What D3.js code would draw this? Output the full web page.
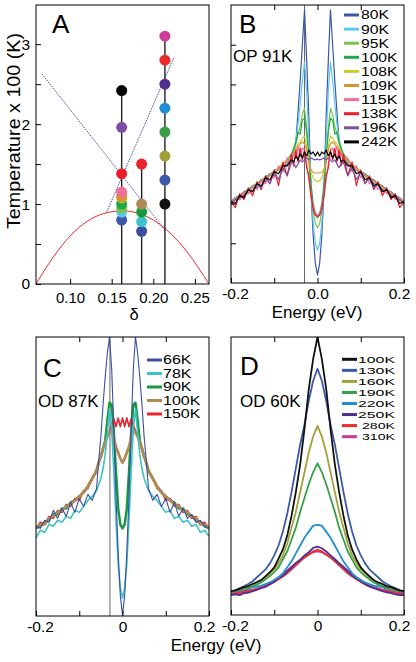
<!DOCTYPE html>
<html>
<head>
<meta charset="utf-8">
<script src="https://cdn.jsdelivr.net/npm/d3@7"></script>
<style>
  body { margin: 0; background: #fff; }
  svg { display: block; }
</style>
</head>
<body>
<svg id="chart" width="416" height="662"></svg>
<script>
// ---------- panel A : phase diagram ----------
const domeDelta = [0.059, 0.08, 0.10, 0.12, 0.14, 0.163, 0.18, 0.20, 0.22, 0.24, 0.267];
const domeTc = [0, 0.34, 0.60, 0.78, 0.88, 0.915, 0.89, 0.80, 0.64, 0.41, 0];
const guideADelta = [0.066, 0.214];
const guideAT = [2.63, 0.675];
const guideBDelta = [0.144, 0.225];
const guideBT = [0.90, 2.84];
const sampleDelta = [0.162, 0.186, 0.214];

// ---------- panel B : OP 91K ----------
const bLabels = ["80K", "90K", "95K", "100K", "108K", "109K", "115K", "138K", "196K", "242K"];
const bTemps = [80, 90, 95, 100, 108, 109, 115, 138, 196, 242];
const bColors = ["#3d56a6", "#5bc8f0", "#7cc24a", "#22a84c", "#c9cd28", "#d69430", "#ef6f97", "#ec1c2d", "#7b4fa3", "#000000"];
const energyB = [-0.2, -0.19, -0.18, -0.17, -0.16, -0.15, -0.14, -0.13, -0.12, -0.11, -0.1, -0.09, -0.08, -0.07, -0.06,
  -0.055, -0.05, -0.045, -0.04, -0.035, -0.03, -0.025, -0.02, -0.015, -0.01, -0.005, 0, 0.005, 0.01, 0.015, 0.02, 0.025, 0.03, 0.035, 0.04, 0.045, 0.05, 0.055,
  0.06, 0.07, 0.08, 0.09, 0.1, 0.11, 0.12, 0.13, 0.14, 0.15, 0.16, 0.17, 0.18, 0.19, 0.2];
const b80 = [2.0, 2.15, 2.1, 2.3, 2.25, 2.45, 2.4, 2.6, 2.55, 2.75, 2.7, 2.9, 2.85, 3.0, 3.15,
  3.3, 3.55, 4.3, 5.1, 6.0, 6.88, 5.6, 4.2, 2.3, 1.2, 0.5, 0.2, 0.5, 1.2, 2.3, 4.2, 5.6, 6.88, 6.0, 5.1, 4.3, 3.55, 3.3,
  3.15, 3.0, 2.9, 2.85, 2.75, 2.7, 2.6, 2.5, 2.45, 2.35, 2.3, 2.2, 2.15, 2.1, 2.0];
const b90 = [2.05, 2.1, 2.2, 2.2, 2.35, 2.4, 2.5, 2.55, 2.7, 2.7, 2.85, 2.85, 3.0, 3.05, 3.2,
  3.35, 3.6, 4.0, 4.5, 5.1, 5.57, 4.8, 3.6, 2.4, 1.5, 1.0, 0.83, 1.0, 1.5, 2.4, 3.6, 4.8, 5.57, 5.1, 4.5, 4.0, 3.6, 3.35,
  3.2, 3.1, 2.95, 2.9, 2.8, 2.75, 2.65, 2.6, 2.45, 2.4, 2.3, 2.25, 2.15, 2.1, 2.0];
const b95 = [2.0, 2.1, 2.15, 2.25, 2.3, 2.4, 2.45, 2.55, 2.6, 2.7, 2.75, 2.85, 2.95, 3.1, 3.2,
  3.35, 3.5, 3.75, 3.95, 4.25, 4.4, 3.9, 3.1, 2.3, 1.8, 1.5, 1.39, 1.5, 1.8, 2.3, 3.1, 3.9, 4.4, 4.25, 3.95, 3.75, 3.5, 3.35,
  3.2, 3.05, 2.95, 2.85, 2.8, 2.7, 2.6, 2.55, 2.45, 2.4, 2.3, 2.25, 2.15, 2.1, 2.0];
const b100 = [2.05, 2.15, 2.2, 2.3, 2.35, 2.45, 2.5, 2.6, 2.65, 2.75, 2.8, 2.9, 3.0, 3.1, 3.25,
  3.4, 3.55, 3.8, 3.75, 4.1, 4.15, 3.8, 3.2, 2.5, 2.0, 1.75, 1.64, 1.75, 2.0, 2.5, 3.2, 3.8, 4.15, 4.1, 3.75, 3.8, 3.55, 3.4,
  3.25, 3.1, 3.0, 2.9, 2.8, 2.75, 2.65, 2.6, 2.5, 2.45, 2.35, 2.3, 2.2, 2.15, 2.05];
const b108 = [1.95, 2.1, 2.15, 2.25, 2.3, 2.4, 2.5, 2.55, 2.65, 2.7, 2.8, 2.9, 3.0, 3.1, 3.2,
  3.3, 3.4, 3.5, 3.55, 3.65, 3.7, 3.45, 3.1, 2.8, 2.65, 2.58, 2.55, 2.58, 2.65, 2.8, 3.1, 3.45, 3.7, 3.65, 3.55, 3.5, 3.4, 3.3,
  3.2, 3.1, 3.0, 2.9, 2.8, 2.7, 2.65, 2.55, 2.5, 2.4, 2.3, 2.25, 2.15, 2.1, 1.95];
const b109 = [2.05, 2.1, 2.2, 2.25, 2.35, 2.4, 2.5, 2.55, 2.65, 2.7, 2.8, 2.85, 2.95, 3.05, 3.15,
  3.25, 3.35, 3.4, 3.5, 3.55, 3.5, 3.35, 3.05, 2.85, 2.79, 2.77, 2.77, 2.77, 2.79, 2.85, 3.05, 3.35, 3.5, 3.55, 3.5, 3.4, 3.35, 3.25,
  3.15, 3.05, 2.95, 2.85, 2.8, 2.7, 2.65, 2.55, 2.5, 2.4, 2.35, 2.25, 2.2, 2.1, 2.05];
const b115 = [2.0, 2.15, 2.1, 2.3, 2.25, 2.45, 2.35, 2.6, 2.5, 2.75, 2.65, 2.95, 2.8, 3.15, 3.0,
  3.3, 3.15, 3.45, 3.2, 3.4, 3.35, 3.0, 2.6, 2.2, 1.9, 1.75, 1.72, 1.75, 1.9, 2.2, 2.6, 3.0, 3.35, 3.4, 3.2, 3.45, 3.15, 3.3,
  3.0, 3.15, 2.8, 2.95, 2.65, 2.75, 2.5, 2.6, 2.35, 2.45, 2.25, 2.3, 2.1, 2.15, 2.0];
const b138 = [2.05, 1.9, 2.25, 2.1, 2.4, 2.2, 2.55, 2.35, 2.7, 2.5, 2.85, 2.45, 3.05, 2.7, 3.25,
  2.95, 3.35, 3.05, 3.4, 3.1, 3.35, 2.9, 2.7, 2.2, 1.85, 1.7, 1.68, 1.7, 1.85, 2.2, 2.7, 2.9, 3.35, 3.1, 3.4, 3.05, 3.35, 2.95,
  3.25, 2.7, 3.05, 2.45, 2.85, 2.5, 2.7, 2.35, 2.55, 2.2, 2.4, 2.1, 2.25, 1.9, 2.05];
const b196 = [2.0, 2.1, 2.15, 2.2, 2.35, 2.3, 2.5, 2.4, 2.65, 2.5, 2.8, 2.6, 2.9, 2.7, 3.05,
  3.0, 2.9, 3.0, 3.1, 3.05, 3.1, 3.15, 3.1, 3.15, 3.12, 3.1, 3.12, 3.1, 3.12, 3.15, 3.1, 3.15, 3.1, 3.05, 3.1, 3.0, 2.9, 3.0,
  3.05, 2.7, 2.9, 2.6, 2.8, 2.5, 2.65, 2.4, 2.5, 2.3, 2.35, 2.2, 2.15, 2.1, 2.0];
const b242 = [2.05, 2.0, 2.2, 2.15, 2.35, 2.3, 2.5, 2.45, 2.65, 2.6, 2.8, 2.75, 2.95, 2.95, 3.1,
  3.05, 3.2, 3.1, 3.25, 3.15, 3.3, 3.2, 3.35, 3.25, 3.3, 3.2, 3.3, 3.2, 3.3, 3.25, 3.35, 3.2, 3.3, 3.15, 3.25, 3.1, 3.2, 3.05,
  3.1, 2.95, 2.95, 2.75, 2.8, 2.6, 2.65, 2.45, 2.5, 2.3, 2.35, 2.15, 2.2, 2.0, 2.05];
const bSeries = [b80, b90, b95, b100, b108, b109, b115, b138, b196, b242];

// ---------- panel C : OD 87K ----------
const cLabels = ["66K", "78K", "90K", "100K", "150K"];
const cTemps = [66, 78, 90, 100, 150];
const cColors = ["#3b4fa3", "#3cc2c8", "#159a3f", "#b08a56", "#e8232b"];
const c66 = [2.25, 2.2, 2.4, 2.35, 2.65, 2.45, 2.7, 2.5, 2.85, 2.6, 2.95, 2.75, 3.05, 2.9, 3.2,
  3.9, 4.5, 5.3, 6.0, 6.6, 7.0, 6.2, 4.7, 3.0, 1.6, 0.5, 0.03, 0.5, 1.6, 3.0, 4.7, 6.2, 7.0, 6.6, 6.0, 5.3, 4.5, 3.9,
  3.2, 2.9, 3.05, 2.75, 2.95, 2.6, 2.85, 2.5, 2.7, 2.45, 2.55, 2.35, 2.4, 2.25, 2.2];
const c78 = [1.96, 2.15, 2.1, 2.3, 2.25, 2.4, 2.35, 2.5, 2.45, 2.65, 2.6, 2.75, 2.9, 3.0, 3.15,
  3.3, 3.45, 3.7, 4.05, 4.6, 5.2, 4.7, 3.6, 2.4, 1.3, 0.7, 0.45, 0.7, 1.3, 2.4, 3.6, 4.7, 5.2, 4.6, 4.05, 3.7, 3.45, 3.3,
  3.15, 3.0, 2.9, 2.75, 2.6, 2.65, 2.45, 2.5, 2.35, 2.4, 2.25, 2.3, 2.1, 2.15, 2.0];
const c90 = [2.2, 2.25, 2.35, 2.4, 2.55, 2.55, 2.7, 2.7, 2.85, 2.9, 3.0, 3.1, 3.25, 3.45, 3.65,
  3.85, 4.0, 4.2, 4.4, 4.9, 5.35, 5.3, 4.6, 3.6, 2.7, 2.3, 2.2, 2.3, 2.7, 3.6, 4.6, 5.3, 5.35, 4.9, 4.4, 4.2, 4.0, 3.85,
  3.65, 3.45, 3.25, 3.1, 3.0, 2.9, 2.85, 2.7, 2.7, 2.55, 2.5, 2.4, 2.35, 2.25, 2.2];
const c100 = [2.2, 2.3, 2.3, 2.45, 2.5, 2.6, 2.65, 2.75, 2.8, 2.9, 3.0, 3.1, 3.25, 3.45, 3.65,
  3.85, 4.0, 4.2, 4.35, 4.5, 4.6, 4.67, 4.45, 4.25, 4.1, 3.95, 3.85, 3.95, 4.1, 4.25, 4.45, 4.67, 4.6, 4.5, 4.35, 4.2, 4.0, 3.85,
  3.65, 3.45, 3.25, 3.1, 3.0, 2.9, 2.8, 2.75, 2.65, 2.6, 2.5, 2.45, 2.3, 2.3, 2.2];
const c150 = [2.2, 2.35, 2.3, 2.5, 2.45, 2.65, 2.6, 2.8, 2.75, 2.95, 2.9, 3.15, 3.2, 3.45, 3.6,
  3.85, 4.0, 4.2, 4.35, 4.5, 4.65, 4.8, 4.95, 4.75, 4.97, 4.75, 4.97, 4.75, 4.97, 4.75, 4.95, 4.8, 4.65, 4.5, 4.35, 4.2, 4.0, 3.85,
  3.6, 3.45, 3.2, 3.15, 2.9, 2.95, 2.75, 2.8, 2.6, 2.65, 2.45, 2.5, 2.3, 2.35, 2.2];
const cSeries = [c66, c78, c90, c100, c150];

// ---------- panel D : OD 60K ----------
const dLabels = ["100K", "130K", "160K", "190K", "220K", "250K", "280K", "310K"];
const dTemps = [100, 130, 160, 190, 220, 250, 280, 310];
const dColors = ["#111111", "#3d5aa8", "#a2a13a", "#35a048", "#1e8fd4", "#4f2f8f", "#ee2b2b", "#cc3b9b"];
const energyD = [-0.2, -0.19, -0.18, -0.17, -0.16, -0.15, -0.14, -0.13, -0.12, -0.11, -0.1, -0.09, -0.08, -0.07, -0.06, -0.05, -0.04, -0.03, -0.02, -0.01,
  0, 0.01, 0.02, 0.03, 0.04, 0.05, 0.06, 0.07, 0.08, 0.09, 0.1, 0.11, 0.12, 0.13, 0.14, 0.15, 0.16, 0.17, 0.18, 0.19, 0.2];
const d100 = [0.6, 0.62, 0.66, 0.7, 0.73, 0.78, 0.83, 0.88, 0.98, 1.08, 1.2, 1.42, 1.65, 2.0, 2.5, 3.1, 3.8, 4.7, 5.7, 6.45,
  7.0, 6.45, 5.7, 4.7, 3.8, 3.1, 2.5, 2.0, 1.65, 1.4, 1.2, 1.08, 0.98, 0.88, 0.82, 0.78, 0.72, 0.7, 0.66, 0.62, 0.6];
const d130 = [0.6, 0.62, 0.68, 0.72, 0.78, 0.85, 0.95, 1.05, 1.15, 1.3, 1.5, 1.75, 2.1, 2.55, 3.1, 3.7, 4.3, 4.8, 5.4, 5.9,
  6.2, 5.9, 5.4, 4.8, 4.3, 3.7, 3.1, 2.55, 2.1, 1.75, 1.5, 1.3, 1.15, 1.05, 0.95, 0.85, 0.78, 0.72, 0.68, 0.62, 0.6];
const d160 = [0.6, 0.62, 0.65, 0.68, 0.72, 0.78, 0.82, 0.88, 0.95, 1.05, 1.15, 1.3, 1.5, 1.8, 2.2, 2.6, 3.1, 3.6, 4.1, 4.5,
  4.76, 4.5, 4.1, 3.6, 3.1, 2.6, 2.2, 1.8, 1.5, 1.3, 1.15, 1.05, 0.95, 0.88, 0.82, 0.78, 0.72, 0.68, 0.65, 0.62, 0.6];
const d190 = [0.58, 0.6, 0.62, 0.65, 0.68, 0.72, 0.77, 0.82, 0.9, 0.98, 1.08, 1.2, 1.4, 1.6, 1.9, 2.2, 2.6, 2.95, 3.3, 3.6,
  3.82, 3.6, 3.3, 2.95, 2.6, 2.2, 1.9, 1.6, 1.4, 1.2, 1.08, 0.98, 0.9, 0.82, 0.77, 0.72, 0.68, 0.65, 0.62, 0.6, 0.58];
const d220 = [0.58, 0.6, 0.62, 0.64, 0.66, 0.7, 0.72, 0.74, 0.78, 0.82, 0.88, 0.95, 1.05, 1.2, 1.35, 1.55, 1.75, 1.95, 2.1, 2.25,
  2.27, 2.25, 2.1, 1.95, 1.75, 1.55, 1.35, 1.2, 1.05, 0.95, 0.88, 0.82, 0.78, 0.74, 0.72, 0.7, 0.66, 0.64, 0.62, 0.6, 0.58];
const d250 = [0.5, 0.52, 0.5, 0.55, 0.56, 0.6, 0.63, 0.68, 0.71, 0.78, 0.84, 0.93, 0.99, 1.1, 1.19, 1.31, 1.39, 1.5, 1.58, 1.69,
  1.72, 1.68, 1.6, 1.5, 1.41, 1.3, 1.2, 1.1, 1.0, 0.92, 0.85, 0.78, 0.72, 0.68, 0.64, 0.6, 0.57, 0.55, 0.52, 0.5, 0.5];
const d280 = [0.52, 0.53, 0.55, 0.58, 0.6, 0.62, 0.65, 0.68, 0.72, 0.77, 0.83, 0.9, 0.97, 1.05, 1.15, 1.25, 1.35, 1.45, 1.53, 1.6,
  1.64, 1.6, 1.53, 1.45, 1.35, 1.25, 1.15, 1.05, 0.97, 0.9, 0.83, 0.77, 0.72, 0.68, 0.65, 0.62, 0.6, 0.58, 0.55, 0.53, 0.52];
const d310 = [0.55, 0.56, 0.58, 0.6, 0.62, 0.64, 0.67, 0.7, 0.74, 0.8, 0.88, 0.95, 1.03, 1.12, 1.22, 1.3, 1.38, 1.45, 1.52, 1.58,
  1.6, 1.58, 1.52, 1.45, 1.38, 1.3, 1.22, 1.12, 1.03, 0.95, 0.88, 0.8, 0.74, 0.7, 0.67, 0.64, 0.62, 0.6, 0.58, 0.56, 0.55];
const dSeries = [d100, d130, d160, d190, d220, d250, d280, d310];

// ---------- drawing ----------
const font = "'Liberation Sans', Arial, Helvetica, sans-serif";
const svg = d3.select("#chart").attr("font-family", font);

const makePanel = (id, x0, x1, y0, y1, xDomain, yDomain) => {
  const x = d3.scaleLinear().domain(xDomain).range([x0, x1]);
  const y = d3.scaleLinear().domain(yDomain).range([y1, y0]);
  svg.append("clipPath").attr("id", "clip-" + id)
    .append("rect").attr("x", x0).attr("y", y0).attr("width", x1 - x0).attr("height", y1 - y0);
  const g = svg.append("g").attr("clip-path", `url(#clip-${id})`);
  return { id, x, y, g, x0, x1, y0, y1 };
};

const frame = (p) => {
  svg.append("rect")
    .attr("x", p.x0).attr("y", p.y0)
    .attr("width", p.x1 - p.x0).attr("height", p.y1 - p.y0)
    .attr("fill", "none").attr("stroke", "#000").attr("stroke-width", 1);
};

const styleAxis = (g, size) => {
  g.select(".domain").remove();
  g.selectAll(".tick line").attr("stroke", "#000");
  g.selectAll("text").attr("font-family", font).attr("font-size", size).attr("fill", "#000");
};

// energy axes: labels on the outer ticks sit a little inside the frame
const energyAxes = (p, labels) => {
  const ticks = [-0.2, -0.1, 0, 0.1, 0.2];
  const shift = [4, 0, 0, 0, -5];
  svg.append("g").attr("transform", `translate(0,${p.y1})`)
    .call(d3.axisBottom(p.x).tickValues(ticks).tickSizeInner(-5).tickSizeOuter(0).tickPadding(5)
      .tickFormat((d, i) => labels[i]))
    .call((g) => styleAxis(g, 15.5))
    .call((g) => g.selectAll("text").attr("dx", (d, i) => shift[i]));
  svg.append("g").attr("transform", `translate(0,${p.y0})`)
    .call(d3.axisTop(p.x).tickValues([-0.1, 0, 0.1]).tickSizeInner(-5).tickSizeOuter(0).tickFormat(""))
    .call((g) => styleAxis(g, 15));
};

const drawLines = (p, energy, series, colors, widths, order) => {
  const line = d3.line().x((d, i) => p.x(energy[i])).y((d) => p.y(d));
  order.forEach((k) => {
    p.g.append("path")
      .datum(series[k])
      .attr("d", line)
      .attr("fill", "none")
      .attr("stroke", colors[k])
      .attr("stroke-width", widths[k])
      .attr("stroke-linejoin", "round");
  });
};

// legend text is set a bit small and stretched sideways so the rows do not collide
const legend = (x1, x2, tx, anchor, yStart, step, labels, colors, size, widths) => {
  labels.forEach((lab, i) => {
    const yy = yStart + i * step;
    svg.append("line").attr("x1", x1).attr("x2", x2).attr("y1", yy).attr("y2", yy)
      .attr("stroke", colors[i]).attr("stroke-width", 3);
    svg.append("text").attr("x", tx).attr("y", yy).attr("dy", "0.36em")
      .attr("text-anchor", anchor).attr("font-size", size)
      .attr("textLength", widths[i]).attr("lengthAdjust", "spacingAndGlyphs")
      .text(lab);
  });
};

const label = (x, y, txt, size, anchor = "start") =>
  svg.append("text").attr("x", x).attr("y", y).attr("font-size", size)
    .attr("text-anchor", anchor).attr("fill", "#000").text(txt);

// ----- Panel A -----
const pA = makePanel("a", 36, 209, 5, 284, [0.059, 0.267], [0, 3.49]);
pA.g.append("path")
  .datum(domeTc)
  .attr("d", d3.line().curve(d3.curveMonotoneX).x((d, i) => pA.x(domeDelta[i])).y((d) => pA.y(d)))
  .attr("fill", "none").attr("stroke", "#ee2a2a").attr("stroke-width", 1);
[[guideADelta, guideAT], [guideBDelta, guideBT]].forEach(([dx, dt]) => {
  pA.g.append("path")
    .datum(dt)
    .attr("d", d3.line().x((d, i) => pA.x(dx[i])).y((d) => pA.y(d)))
    .attr("fill", "none").attr("stroke", "#3b3fa0").attr("stroke-width", 0.9)
    .attr("stroke-dasharray", "1.6,1");
});
const groups = [
  { delta: sampleDelta[0], temps: bTemps, colors: bColors },
  { delta: sampleDelta[1], temps: cTemps, colors: cColors },
  { delta: sampleDelta[2], temps: dTemps, colors: dColors },
];
groups.forEach((grp) => {
  pA.g.append("line")
    .attr("x1", pA.x(grp.delta)).attr("x2", pA.x(grp.delta))
    .attr("y1", pA.y(0)).attr("y2", pA.y(d3.max(grp.temps) / 100))
    .attr("stroke", "#222").attr("stroke-width", 1.4);
});
groups.forEach((grp) => {
  grp.temps.forEach((t, i) => {
    pA.g.append("circle")
      .attr("cx", pA.x(grp.delta)).attr("cy", pA.y(t / 100)).attr("r", 5.5)
      .attr("fill", grp.colors[i]);
  });
});
frame(pA);
svg.append("g").attr("transform", `translate(${pA.x0},0)`)
  .call(d3.axisLeft(pA.y).tickValues([0, 0.5, 1, 1.5, 2, 2.5, 3]).tickSizeInner(-5).tickSizeOuter(0).tickPadding(6)
    .tickFormat((d) => (Number.isInteger(d) ? d : "")))
  .call((g) => styleAxis(g, 15.5));
svg.append("g").attr("transform", `translate(0,${pA.y1})`)
  .call(d3.axisBottom(pA.x).tickValues([0.10, 0.15, 0.20, 0.25]).tickSizeInner(-5).tickSizeOuter(0).tickPadding(8)
    .tickFormat(d3.format(".2f")))
  .call((g) => styleAxis(g, 15));
label(134, 320, "δ", 16.5, "middle");
svg.append("text")
  .attr("transform", "translate(20,131) rotate(-90)")
  .attr("text-anchor", "middle").attr("font-size", 18)
  .attr("textLength", 196).attr("lengthAdjust", "spacingAndGlyphs")
  .text("Temperature x 100 (K)");
label(52, 33, "A", 26);

// ----- Panel B -----
const pB = makePanel("b", 231, 404, 5, 283, [-0.2, 0.2], [0, 7]);
pB.g.append("line").attr("x1", pB.x(-0.03)).attr("x2", pB.x(-0.03)).attr("y1", pB.y0).attr("y2", pB.y1)
  .attr("stroke", "#666").attr("stroke-width", 1);
drawLines(pB, energyB, bSeries, bColors, bSeries.map(() => 1.2), d3.range(bSeries.length));
frame(pB);
svg.append("g").attr("transform", `translate(${pB.x0},0)`)
  .call(d3.axisLeft(pB.y).tickValues([1, 2, 3, 4, 5, 6]).tickSizeInner(-5).tickSizeOuter(0).tickFormat(""))
  .call((g) => styleAxis(g, 15));
energyAxes(pB, ["-0.2", "", "0.0", "", "0.2"]);
label(317, 318, "Energy (eV)", 17, "middle");
label(239, 33, "B", 26);
label(233, 62, "OP 91K", 17);
legend(344, 359, 361, "start", 15, 14.1, bLabels, bColors, 12.4,
  bLabels.map((s) => (s.length === 3 ? 28 : 36.5)));

// ----- Panel C -----
const pC = makePanel("c", 36, 209, 337, 616, [-0.2, 0.2], [0, 7]);
pC.g.append("line").attr("x1", pC.x(-0.029)).attr("x2", pC.x(-0.029)).attr("y1", pC.y0).attr("y2", pC.y1)
  .attr("stroke", "#666").attr("stroke-width", 1);
drawLines(pC, energyB, cSeries, cColors, [1.1, 1.6, 2.5, 2.8, 1.6], [2, 4, 3, 1, 0]);
frame(pC);
energyAxes(pC, ["-0.2", "", "0", "", "0.2"]);
label(43, 377, "C", 26);
label(38, 407, "OD 87K", 17);
legend(147, 162, 163, "start", 360, 13.5, cLabels, cColors, 11.9,
  cLabels.map((s) => (s.length === 3 ? 28.5 : 37.5)));

// ----- Panel D -----
const pD = makePanel("d", 231, 404, 337, 615, [-0.2, 0.2], [0, 7]);
drawLines(pD, energyD, dSeries, dColors, dSeries.map(() => 1.8), [7, 6, 5, 4, 3, 2, 1, 0]);
frame(pD);
energyAxes(pD, ["-0.2", "", "0", "", "0.2"]);
label(216, 651, "Energy (eV)", 17, "middle");
label(240, 375, "D", 26);
label(240, 407, "OD 60K", 17);
legend(342, 357, 395, "end", 359.3, 11.05, dLabels, dColors, 9.8, [37, 37, 37, 37, 37, 37, 33, 33]);
</script>
</body>
</html>
